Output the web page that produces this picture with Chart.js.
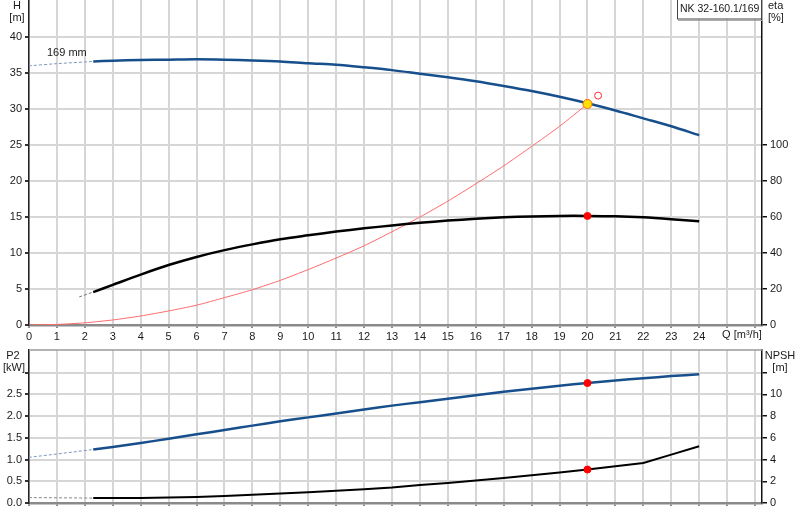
<!DOCTYPE html>
<html>
<head>
<meta charset="utf-8">
<script src="https://cdn.jsdelivr.net/npm/chart.js@4/dist/chart.umd.min.js"></script>
<style>
  body { margin: 0; background: #fff; }
  #wrap { position: relative; width: 800px; height: 520px; }
  canvas { position: absolute; left: 0; }
</style>
</head>
<body>
<div id="wrap">
  <canvas id="curveChart" width="800" height="345" style="top:0"></canvas>
  <canvas id="powerChart" width="800" height="175" style="top:345px"></canvas>
</div>
<script>
// flow points (m3/h) shared by the pump curves
const flow = [2.3, 3, 4, 5, 6, 7, 8, 9, 10, 11, 12, 13, 14, 15, 16, 17, 18, 19, 20, 21, 22, 23, 24];
const head = [36.6, 36.7, 36.8, 36.85, 36.9, 36.85, 36.75, 36.6, 36.35, 36.15, 35.8, 35.4, 34.9, 34.4, 33.85, 33.2, 32.5, 31.7, 30.8, 29.8, 28.7, 27.6, 26.35];
const eta = [18.3, 22.3, 28.0, 33.3, 37.8, 41.6, 44.8, 47.6, 49.8, 51.9, 53.7, 55.3, 56.8, 58.0, 59.0, 59.8, 60.3, 60.6, 60.6, 60.4, 59.8, 58.8, 57.6];
const power = [1.23, 1.29, 1.38, 1.48, 1.58, 1.68, 1.78, 1.88, 1.97, 2.06, 2.15, 2.24, 2.32, 2.40, 2.48, 2.56, 2.63, 2.70, 2.76, 2.82, 2.87, 2.92, 2.96];
const npsh = [0.45, 0.46, 0.47, 0.50, 0.55, 0.65, 0.77, 0.88, 0.99, 1.12, 1.26, 1.43, 1.66, 1.85, 2.06, 2.30, 2.55, 2.80, 3.08, 3.38, 3.69, 4.45, 5.23];

// dashed parts outside the allowed range
const headExtFlow = [0, 1, 2.3];
const headExt = [36.0, 36.3, 36.6];
const etaExtFlow = [1.8, 2.3];
const etaExt = [15.6, 18.3];
const powerExtFlow = [0, 2.3];
const powerExt = [1.05, 1.23];
const npshExtFlow = [0, 2.3];
const npshExt = [0.5, 0.45];

// system curve
const sysFlow = [0, 1, 2, 3, 4, 5, 6, 7, 8, 9, 10, 11, 12, 13, 14, 15, 16, 17, 18, 19, 20];
const sysHead = [0, 0.08, 0.3, 0.7, 1.25, 1.95, 2.75, 3.8, 4.9, 6.2, 7.7, 9.3, 11.0, 12.95, 15.0, 17.2, 19.6, 22.1, 24.8, 27.6, 30.7];

// duty point
const dutyFlow = 20;
const dutyHead = 30.7;
const dutyEta = 60.6;
const dutyPower = 2.76;
const dutyNpsh = 3.08;
const reqFlow = 20.38;
const reqHead = 31.86;

const qTicks = [0, 1, 2, 3, 4, 5, 6, 7, 8, 9, 10, 11, 12, 13, 14, 15, 16, 17, 18, 19, 20, 21, 22, 23, 24, 25, 26];
const hTicks = [0, 5, 10, 15, 20, 25, 30, 35, 40];
const etaTicks = [0, 20, 40, 60, 80, 100];
const p2Ticks = [0, 0.5, 1.0, 1.5, 2.0, 2.5, 3.0];
const p2Labels = ['0.0', '0.5', '1.0', '1.5', '2.0', '2.5', ''];
const npshTicks = [0, 2, 4, 6, 8, 10, 12];
const npshLabels = ['0', '2', '4', '6', '8', '10', ''];

const BLUE = '#174f8c';
const GRID = '#d6d6d6';
const FONT = '"Liberation Sans", Arial, sans-serif';

Chart.defaults.font.family = FONT;
Chart.defaults.font.size = 11;
Chart.defaults.color = '#1a1a1a';

function pts(xs, ys) {
    return xs.map((x, i) => ({x: x, y: ys[i]}));
}

function setTicks(values) {
    return function(scale) { scale.ticks = values.map(v => ({value: v})); };
}

function fitY(w) {
    return function(scale) {
        scale.width = w;
        scale.paddingTop = 0;
        scale.paddingBottom = 0;
    };
}

function fitX(h) {
    return function(scale) {
        scale.height = h;
        scale.paddingLeft = 0;
        scale.paddingRight = 0;
    };
}

function line(data, color, width, axis, extra) {
    return Object.assign({
        data: data,
        borderColor: color,
        backgroundColor: color,
        borderWidth: width,
        pointRadius: 0,
        tension: 0.3,
        yAxisID: axis
    }, extra || {});
}

function dot(data, fill, border, r, axis) {
    return {
        data: data,
        showLine: false,
        pointRadius: r,
        pointBackgroundColor: fill,
        pointBorderColor: border,
        pointBorderWidth: 1,
        yAxisID: axis
    };
}

const xScale = (showLabels, height) => ({
    type: 'linear',
    min: 0,
    max: 26.25,
    afterBuildTicks: setTicks(qTicks),
    afterFit: fitX(height),
    grid: { color: GRID, lineWidth: 2, tickLength: 3, tickColor: '#888' },
    border: { color: '#8a8a8a', width: 2.5 },
    ticks: {
        display: showLabels,
        padding: 2,
        maxRotation: 0,
        autoSkip: false,
        callback: v => (v <= 24 ? String(v) : '')
    }
});

// text drawn outside the axes
const topText = {
    id: 'topText',
    afterDraw(chart) {
        const ctx = chart.ctx;
        const xs = chart.scales.x;
        ctx.save();
        ctx.font = '11px ' + FONT;
        ctx.fillStyle = '#1a1a1a';
        ctx.textBaseline = 'middle';
        ctx.textAlign = 'center';
        ctx.fillText('H', 17, 6);
        ctx.fillText('[m]', 17, 18);
        ctx.textAlign = 'left';
        ctx.fillText('eta', 768, 6);
        ctx.fillText('[%]', 768, 18);
        ctx.fillText('169 mm', 47, 53);
        ctx.fillText('Q [m\u00b3/h]', xs.getPixelForValue(25) - 5, 335);
        // model box
        ctx.fillStyle = '#fff';
        ctx.fillRect(677, 0, 84, 19);
        ctx.strokeStyle = '#444';
        ctx.lineWidth = 1;
        ctx.strokeRect(677.5, -0.5, 84, 19.5);
        ctx.strokeStyle = '#aaa';
        ctx.beginPath();
        ctx.moveTo(678, 20.5);
        ctx.lineTo(762.5, 20.5);
        ctx.lineTo(762.5, 0);
        ctx.stroke();
        ctx.fillStyle = '#1a1a1a';
        ctx.font = '10.5px ' + FONT;
        ctx.fillText('NK 32-160.1/169', 680, 9.5);
        ctx.restore();
    }
};

const bottomText = {
    id: 'bottomText',
    afterDraw(chart) {
        const ctx = chart.ctx;
        const a = chart.chartArea;
        ctx.save();
        ctx.strokeStyle = '#9a9a9a';
        ctx.lineWidth = 1.5;
        ctx.beginPath();
        ctx.moveTo(a.left, a.top);
        ctx.lineTo(a.right, a.top);
        ctx.stroke();
        ctx.font = '11px ' + FONT;
        ctx.fillStyle = '#1a1a1a';
        ctx.textBaseline = 'middle';
        ctx.textAlign = 'center';
        ctx.fillText('P2', 13, 10.5);
        ctx.fillText('[kW]', 14, 23);
        ctx.fillText('NPSH', 780, 11);
        ctx.fillText('[m]', 780, 23);
        ctx.restore();
    }
};

new Chart(document.getElementById('curveChart').getContext('2d'), {
    type: 'line',
    data: {
        datasets: [
            dot([{x: dutyFlow, y: dutyHead}], '#ffe000', '#ff6a00', 4.5, 'y'),
            dot([{x: reqFlow, y: reqHead}], '#fff', '#ff3030', 3.5, 'y'),
            dot([{x: dutyFlow, y: dutyEta}], '#ff0000', '#ff0000', 3.5, 'eta'),
            line(pts(flow, head), BLUE, 2.5, 'y'),
            line(pts(flow, eta), '#000', 2.5, 'eta'),
            line(pts(sysFlow, sysHead), '#ff6a6a', 1, 'y', {tension: 0.2}),
            line(pts(headExtFlow, headExt), '#7d97bd', 1, 'y', {borderDash: [3, 2]}),
            line(pts(etaExtFlow, etaExt), '#777', 1, 'eta', {borderDash: [3, 2]})
        ]
    },
    options: {
        responsive: false,
        animation: false,
        layout: { padding: 0, autoPadding: false },
        plugins: { legend: { display: false }, tooltip: { enabled: false } },
        scales: {
            x: xScale(true, 20),
            y: {
                type: 'linear',
                position: 'left',
                min: 0,
                max: 45.14,
                afterBuildTicks: setTicks(hTicks),
                afterFit: fitY(29),
                grid: { color: GRID, lineWidth: 2, tickLength: 4, tickColor: '#333' },
                border: { color: '#222', width: 1.5 },
                ticks: { padding: 3 }
            },
            eta: {
                type: 'linear',
                position: 'right',
                min: 0,
                max: 180.56,
                afterBuildTicks: setTicks(etaTicks),
                afterFit: fitY(38),
                grid: { drawOnChartArea: false, tickLength: 5, tickColor: '#111', lineWidth: 1.5 },
                border: { color: '#111', width: 1.5 },
                ticks: { padding: 3 }
            }
        }
    },
    plugins: [topText]
});

new Chart(document.getElementById('powerChart').getContext('2d'), {
    type: 'line',
    data: {
        datasets: [
            dot([{x: dutyFlow, y: dutyPower}], '#ff0000', '#ff0000', 3.5, 'y'),
            dot([{x: dutyFlow, y: dutyNpsh}], '#ff0000', '#ff0000', 3.5, 'npsh'),
            line(pts(flow, power), BLUE, 2.5, 'y'),
            line(pts(flow, npsh), '#000', 2, 'npsh', {tension: 0}),
            line(pts(powerExtFlow, powerExt), '#7d97bd', 1, 'y', {borderDash: [3, 2]}),
            line(pts(npshExtFlow, npshExt), '#888', 1, 'npsh', {borderDash: [3, 2]})
        ]
    },
    options: {
        responsive: false,
        animation: false,
        layout: { padding: { top: 5 }, autoPadding: false },
        plugins: { legend: { display: false }, tooltip: { enabled: false } },
        scales: {
            x: xScale(false, 17),
            y: {
                type: 'linear',
                position: 'left',
                min: 0,
                max: 3.52,
                afterBuildTicks: setTicks(p2Ticks),
                afterFit: fitY(29),
                grid: { color: GRID, lineWidth: 2, tickLength: 4, tickColor: '#333' },
                border: { color: '#222', width: 1.5 },
                ticks: { padding: 3, callback: (v, i) => p2Labels[i] }
            },
            npsh: {
                type: 'linear',
                position: 'right',
                min: 0,
                max: 14.08,
                afterBuildTicks: setTicks(npshTicks),
                afterFit: fitY(38),
                grid: { drawOnChartArea: false, tickLength: 5, tickColor: '#111', lineWidth: 1.5 },
                border: { color: '#111', width: 1.5 },
                ticks: { padding: 3, callback: (v, i) => npshLabels[i] }
            }
        }
    },
    plugins: [bottomText]
});
</script>
</body>
</html>
